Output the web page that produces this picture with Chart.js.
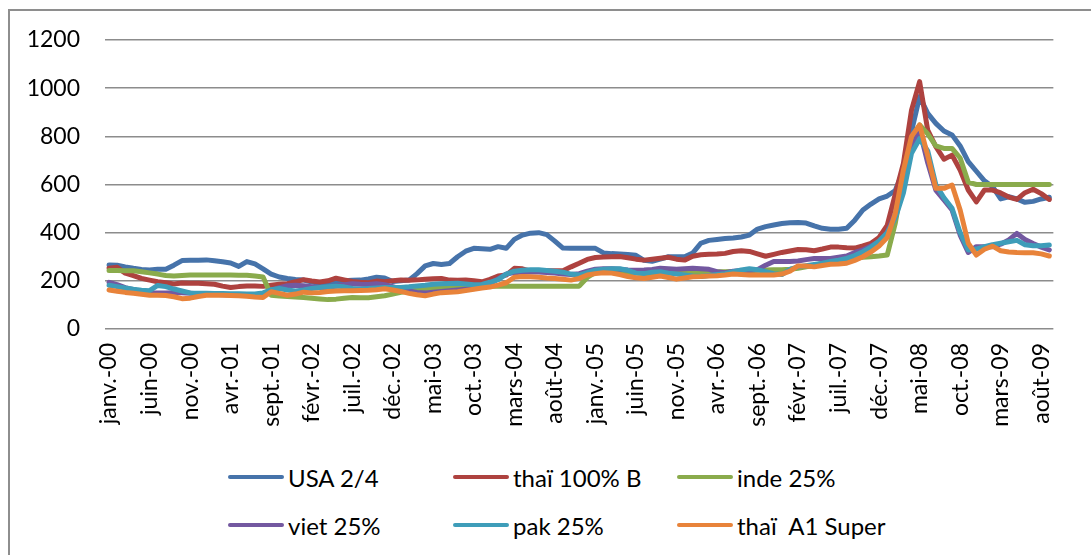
<!DOCTYPE html>
<html>
<head>
<meta charset="utf-8">
<script src="https://cdn.jsdelivr.net/npm/chart.js@4.4.0/dist/chart.umd.min.js"></script>
<style>
  html, body { margin: 0; padding: 0; background: #fff; overflow: hidden; }
  #frame {
    position: absolute; left: 8px; top: 9px; width: 1200px; height: 700px;
    border-left: 2px solid #8e8e8e; border-top: 2px solid #8e8e8e;
  }
  #chartBox { position: absolute; left: 0; top: 0; width: 1091px; height: 445px; }
  #legend { position: absolute; left: 0; top: 0; font: 24px Lato, sans-serif; color: #000; }
  .item { position: absolute; display: flex; align-items: center; white-space: pre; height: 30px; }
  .swatch { display: inline-block; width: 56px; height: 4px; border-radius: 2px; margin-right: 4px; }
</style>
</head>
<body>
<div id="frame"></div>
<div id="chartBox"><canvas id="riceChart" width="1091" height="445"></canvas></div>
<div id="legend"></div>
<script>
// mois en abréviations françaises (format Excel)
const monthNames = ['janv.', 'févr.', 'mars', 'avr.', 'mai', 'juin', 'juil.', 'août', 'sept.', 'oct.', 'nov.', 'déc.'];
const years = ['00', '01', '02', '03', '04', '05', '06', '07', '08', '09'];
const lastMonth = 'sept.-09';

const categories = [];
years.forEach(function (y) {
    monthNames.forEach(function (m) {
        if (categories[categories.length - 1] !== lastMonth) categories.push(m + '-' + y);
    });
});

const seriesNames = ['USA 2/4', 'thaï 100% B', 'inde 25%', 'viet 25%', 'pak 25%', 'thaï  A1 Super'];
const seriesColors = ['#4673AA', '#AE423F', '#8AAB4C', '#7358A0', '#3E9DB9', '#E8833A'];

const usa = [
    266, 265, 258, 252, 247, 245, 248, 248, 265, 284,
    285, 285, 287, 283, 279, 274, 260, 280, 270, 250,
    228, 216, 210, 206, 203, 195, 190, 190, 196, 200,
    202, 203, 208, 215, 212, 197, 200, 203, 230, 262,
    272, 268, 272, 300, 323, 335, 333, 331, 342, 335,
    372, 390, 398, 400, 392, 365, 336, 335, 335, 335,
    335, 316, 313, 311, 309, 306, 285, 281, 290, 300,
    300, 300, 315, 356, 368, 372, 376, 378, 382, 390,
    415, 425, 432, 438, 441, 442, 440, 428, 418, 414,
    414, 418, 452, 494, 519, 540, 552, 575, 660, 820,
    965, 895, 854, 822, 806, 760, 695, 655, 615, 591,
    540, 549, 540, 526, 530, 540, 547
];
const thai100 = [
    252, 256, 232, 222, 210, 203, 196, 192, 187, 191,
    190, 190, 188, 186, 178, 172, 176, 179, 179, 177,
    182, 186, 188, 196, 205, 199, 195, 200, 211, 204,
    197, 194, 192, 199, 196, 200, 203, 202, 204, 207,
    209, 210, 203, 202, 203, 200, 196, 206, 220, 224,
    252, 250, 240, 240, 242, 242, 242, 258, 273, 289,
    297, 299, 300, 301, 296, 290, 286, 290, 294, 298,
    290, 286, 302, 308, 310, 311, 314, 322, 325, 322,
    312, 302, 310, 318, 324, 330, 329, 325, 332, 340,
    340, 337, 336, 345, 356, 380, 430, 560, 688, 909,
    1027, 826, 757, 705, 722, 660, 577, 528, 577, 577,
    565, 548, 538, 566, 580, 562, 538
];
const inde = [
    243, 243, 242, 242, 238, 233, 228, 222, 220, 222,
    224, 224, 224, 224, 224, 224, 223, 223, 220, 216,
    140, 137, 135, 133, 131, 128, 125, 122, 124, 128,
    131, 130, 130, 134, 138, 145, 152, 158, 164, 168,
    170, 171, 172, 173, 174, 175, 176, 177, 178, 178,
    178, 178, 178, 178, 178, 178, 178, 178, 178, 214,
    235, 240, 242, 240, 236, 232, 230, 230, 232, 234,
    235, 236, 236, 237, 238, 238, 238, 239, 240, 242,
    244, 245, 246, 246, 248, 252, 258, 265, 272, 278,
    283, 288, 294, 298, 300, 303, 307, 440, 630, 790,
    847, 810, 760, 750, 750, 710, 610, 600, 600, 600,
    600, 600, 600, 600, 600, 600, 600
];
const viet = [
    194, 184, 172, 163, 156, 151, 149, 150, 151, 150,
    148, 146, 145, 144, 142, 141, 141, 141, 142, 146,
    160, 172, 180, 182, 180, 176, 172, 172, 178, 184,
    188, 186, 185, 188, 184, 176, 166, 158, 152, 150,
    153, 156, 159, 162, 165, 168, 176, 188, 208, 228,
    234, 237, 238, 237, 235, 232, 228, 226, 230, 240,
    248, 250, 250, 248, 245, 244, 245, 247, 252, 250,
    248, 250, 252, 250, 248, 238, 234, 240, 243, 244,
    246, 265, 280, 280, 280, 282, 288, 293, 293, 293,
    298, 303, 318, 328, 345, 362, 400, 480, 590, 743,
    826, 690, 577, 536, 494, 390, 318, 342, 342, 342,
    352, 370, 397, 372, 355, 340, 328
];
const pak = [
    182, 176, 170, 165, 161, 159, 181, 176, 166, 158,
    150, 148, 148, 147, 147, 146, 146, 145, 145, 150,
    163, 168, 162, 158, 162, 168, 172, 175, 178, 175,
    168, 166, 168, 170, 172, 172, 172, 175, 179, 182,
    186, 188, 189, 190, 187, 184, 185, 194, 205, 228,
    240, 244, 246, 246, 243, 240, 236, 228, 224, 234,
    244, 248, 250, 250, 244, 232, 230, 236, 238, 232,
    228, 224, 220, 218, 222, 226, 230, 238, 245, 250,
    246, 238, 230, 226, 248, 258, 263, 268, 273, 280,
    286, 293, 305, 321, 340, 365, 400, 460, 565, 730,
    790, 740, 600, 545, 501, 400, 328, 332, 342, 350,
    356, 362, 368, 350, 346, 346, 349
];
const thaiA1 = [
    162, 157, 152, 148, 144, 140, 140, 139, 134, 126,
    128, 135, 140, 140, 140, 139, 138, 136, 133, 131,
    155, 148, 140, 145, 153, 150, 152, 156, 158, 159,
    159, 160, 161, 163, 167, 162, 156, 148, 142, 138,
    145, 151, 153, 155, 160, 165, 170, 174, 182, 192,
    215, 218, 217, 215, 212, 210, 207, 203, 210, 224,
    230, 234, 232, 226, 218, 213, 210, 215, 220, 214,
    207, 212, 217, 218, 220, 221, 224, 228, 226, 224,
    224, 224, 224, 228, 240, 262, 262, 258, 264, 269,
    270, 273, 285, 300, 320, 345, 380, 480, 660, 800,
    847, 720, 584, 584, 598, 494, 356, 307, 331, 344,
    325, 320, 318, 317, 317, 312, 303
];

const yTicks = [0, 200, 400, 600, 800, 1000, 1200];
const labelEvery = 5;

const allSeries = [usa, thai100, inde, viet, pak, thaiA1];

const datasets = allSeries.map(function (values, i) {
    return {
        label: seriesNames[i],
        data: values,
        borderColor: seriesColors[i],
        backgroundColor: seriesColors[i],
        borderWidth: 5,
        pointRadius: 0,
        tension: 0,
        borderJoinStyle: 'round',
        borderCapStyle: 'round',
        order: allSeries.length - i   // Excel draws the last series on top
    };
});

const tickFont = { family: 'Lato', size: 23 };

const chart = new Chart(document.getElementById('riceChart').getContext('2d'), {
    type: 'line',
    data: { labels: categories, datasets: datasets },
    options: {
        responsive: false,
        animation: false,
        layout: { padding: { left: 0, top: 40, right: 21, bottom: 0 } },
        plugins: {
            legend: { display: false },
            tooltip: { enabled: false }
        },
        scales: {
            x: {
                type: 'category',
                offset: true,
                grid: { display: false, drawTicks: false },
                border: { display: false },
                ticks: {
                    autoSkip: false,
                    minRotation: 90,
                    maxRotation: 90,
                    padding: 14,
                    color: '#000',
                    font: tickFont,
                    callback: function (value, index) {
                        return index % labelEvery === 0 ? this.getLabelForValue(value) : '';
                    }
                },
                afterFit: function (scale) { scale.height = 116; }
            },
            y: {
                min: yTicks[0],
                max: yTicks[yTicks.length - 1],
                grid: { color: '#8c8c8c', lineWidth: 1.5, drawTicks: false },
                border: { display: false },
                ticks: {
                    stepSize: yTicks[1] - yTicks[0],
                    padding: 25,
                    color: '#000',
                    font: tickFont,
                    callback: function (value) { return String(value); }
                },
                afterFit: function (scale) { scale.width = 105; }
            }
        }
    }
});

// légende HTML en deux rangées de trois, comme dans le graphique Excel
const legendCols = [228, 453, 677];
const legendRows = [462, 510];
const legendEl = document.getElementById('legend');
chart.data.datasets.forEach(function (ds, i) {
    const item = document.createElement('div');
    item.className = 'item';
    item.style.left = legendCols[i % 3] + 'px';
    item.style.top = legendRows[Math.floor(i / 3)] + 'px';
    const sw = document.createElement('span');
    sw.className = 'swatch';
    sw.style.background = ds.borderColor;
    const txt = document.createElement('span');
    txt.textContent = ds.label;
    item.appendChild(sw);
    item.appendChild(txt);
    legendEl.appendChild(item);
});
</script>
</body>
</html>
